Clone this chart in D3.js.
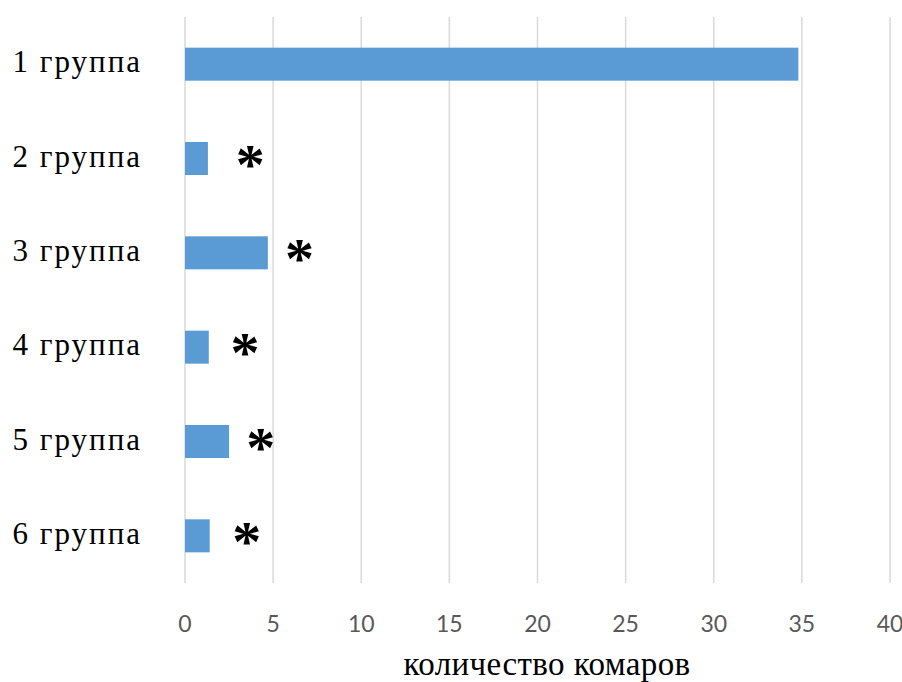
<!DOCTYPE html>
<html>
<head>
<meta charset="utf-8">
<script src="https://cdn.jsdelivr.net/npm/d3@7"></script>
<style>
  body { margin: 0; background: #fff; }
</style>
</head>
<body>
<script>
let groups = ["1 группа", "2 группа", "3 группа", "4 группа", "5 группа", "6 группа"];
let mosquitoes = [34.8, 1.3, 4.7, 1.35, 2.5, 1.4];
// where the significance star sits, in axis units
let starAt = [null, 3.7, 6.5, 3.4, 4.3, 3.5];
let ticks = [0, 5, 10, 15, 20, 25, 30, 35, 40];
let axisTitle = "количество комаров";

let width = 902, height = 682;
let plot = { left: 185, right: 890, top: 17, bottom: 583 };

let svg = d3.select("body").append("svg")
  .attr("width", width)
  .attr("height", height);

let x = d3.scaleLinear().domain([0, 40]).range([plot.left, plot.right]);
let y = d3.scaleBand().domain(groups).range([plot.top, plot.bottom])
  .paddingInner(0.65).paddingOuter(0.325);

// gridlines
svg.append("g")
  .selectAll("line")
  .data(ticks)
  .enter()
  .append("line")
  .attr("x1", d => x(d)).attr("x2", d => x(d))
  .attr("y1", plot.top).attr("y2", plot.bottom)
  .attr("stroke", "#d9d9d9")
  .attr("stroke-width", 1.5);

// bars
svg.append("g")
  .selectAll("rect")
  .data(groups)
  .enter()
  .append("rect")
  .attr("x", x(0))
  .attr("y", d => y(d))
  .attr("width", (d, i) => x(mosquitoes[i]) - x(0))
  .attr("height", y.bandwidth())
  .attr("fill", "#5b9bd5");

// stars
svg.append("g")
  .selectAll("text")
  .data(groups.filter((d, i) => starAt[i] != null))
  .enter()
  .append("text")
  .attr("x", d => x(starAt[groups.indexOf(d)]))
  .attr("y", d => y(d) + y.bandwidth() / 2 + 25)
  .attr("text-anchor", "middle")
  .attr("font-family", "Liberation Serif, serif")
  .attr("font-weight", "bold")
  .attr("font-size", 58)
  .attr("fill", "#000")
  .text("*");

// category labels
svg.append("g")
  .selectAll("text")
  .data(groups)
  .enter()
  .append("text")
  .attr("x", 142)
  .attr("y", d => y(d) + y.bandwidth() / 2 + 8)
  .attr("text-anchor", "end")
  .attr("font-family", "Liberation Serif, serif")
  .attr("font-size", 31)
  .attr("letter-spacing", 2)
  .attr("fill", "#000")
  .text(d => d);

// tick labels
svg.append("g")
  .selectAll("text")
  .data(ticks)
  .enter()
  .append("text")
  .attr("x", d => x(d))
  .attr("y", 632)
  .attr("text-anchor", "middle")
  .attr("font-family", "Lato, sans-serif")
  .attr("font-size", 23)
  .attr("fill", "#595959")
  .text(d => d);

svg.append("text")
  .attr("x", 547)
  .attr("y", 675)
  .attr("text-anchor", "middle")
  .attr("font-family", "Liberation Serif, serif")
  .attr("font-size", 33)
  .attr("letter-spacing", 0.4)
  .attr("fill", "#000")
  .text(axisTitle);
</script>
</body>
</html>
